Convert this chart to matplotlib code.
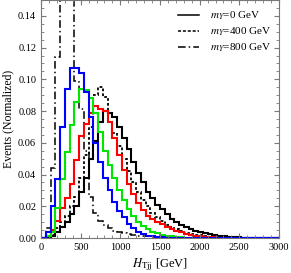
import numpy as np
import matplotlib
matplotlib.use('Agg')
from matplotlib import pyplot as plt
from matplotlib.lines import Line2D
from matplotlib.ticker import MultipleLocator

plt.rcParams['font.family'] = ['Liberation Serif', 'DejaVu Serif']
plt.rcParams['mathtext.fontset'] = 'stix'

# 60 GeV bins from 0 to 3000
edges = np.arange(0, 3001, 60)

blue = [0.0, 0.004, 0.020, 0.037, 0.070, 0.094, 0.107, 0.107, 0.104, 0.092,
        0.076, 0.060, 0.048, 0.038, 0.030, 0.023, 0.017, 0.013, 0.009, 0.006,
        0.004, 0.0025, 0.0015, 0.001, 0.0007, 0.0005, 0.0003, 0.0002, 0.0001, 0.0001,
        0.0001, 0.0001, 0.0001, 0.0001, 0.0001, 0.0001, 0.0001, 0.0001, 0.0001, 0.0001,
        0.0001, 0.0001, 0.0001, 0.0001, 0.0001, 0.0001, 0.0001, 0.0001, 0.0001, 0.0001]
green = [0.0, 0.001, 0.004, 0.019, 0.037, 0.054, 0.071, 0.086, 0.094, 0.093,
         0.088, 0.079, 0.067, 0.055, 0.046, 0.038, 0.030, 0.024, 0.0185, 0.014,
         0.010, 0.0075, 0.0055, 0.004, 0.003, 0.002, 0.0015, 0.001, 0.0007, 0.0005,
         0.0003, 0.0002, 0.0001, 0.0001, 0.0001, 0.0001, 0.0001, 0.0001, 0.0001, 0.0001,
         0.0001, 0.0001, 0.0001, 0.0001, 0.0001, 0.0001, 0.0001, 0.0001, 0.0001, 0.0001]
red = [0.0, 0.001, 0.005, 0.011, 0.019, 0.025, 0.034, 0.049, 0.064, 0.072,
       0.079, 0.083, 0.081, 0.080, 0.073, 0.063, 0.052, 0.043, 0.034, 0.028,
       0.022, 0.0175, 0.014, 0.012, 0.010, 0.0087, 0.007, 0.0055, 0.0045, 0.0035,
       0.0025, 0.002, 0.0015, 0.001, 0.0008, 0.0006, 0.0004, 0.0003, 0.0002, 0.0001,
       0.0001, 0.0001, 0.0001, 0.0001, 0.0001, 0.0001, 0.0001, 0.0001, 0.0001, 0.0001]
black = [0.0, 0.0005, 0.001, 0.004, 0.007, 0.010, 0.015, 0.020, 0.029, 0.038,
         0.050, 0.061, 0.073, 0.080, 0.079, 0.076, 0.070, 0.063, 0.056, 0.048,
         0.041, 0.035, 0.029, 0.025, 0.021, 0.018, 0.015, 0.012, 0.010, 0.0085,
         0.007, 0.0057, 0.0046, 0.0037, 0.003, 0.0024, 0.0018, 0.0013, 0.001, 0.0008,
         0.0006, 0.0004, 0.0003, 0.0002, 0.0001, 0.0001, 0.0001, 0.0001, 0.0001, 0.0001]
my400 = [0.0, 0.0005, 0.002, 0.006, 0.010, 0.014, 0.020, 0.026, 0.038, 0.052,
         0.070, 0.090, 0.095, 0.089, 0.073, 0.066, 0.058, 0.050, 0.042, 0.035,
         0.029, 0.024, 0.020, 0.016, 0.013, 0.0105, 0.0085, 0.0068, 0.0054, 0.0043,
         0.0034, 0.0027, 0.0021, 0.0016, 0.0012, 0.0009, 0.0007, 0.0005, 0.0003, 0.0002,
         0.0001, 0.0001, 0.0001, 0.0001, 0.0001, 0.0001, 0.0001, 0.0001, 0.0001, 0.0001]
my800 = [0.0, 0.006, 0.044, 0.114, 0.170, 0.190, 0.160, 0.099, 0.081, 0.055,
         0.026, 0.0155, 0.011, 0.008, 0.006, 0.0045, 0.0035, 0.003, 0.0025, 0.002,
         0.0015, 0.0012, 0.001, 0.0008, 0.0006, 0.0004, 0.0003, 0.0002, 0.0001, 0.0001,
         0.0, 0.0, 0.0, 0.0, 0.0, 0.0, 0.0, 0.0, 0.0, 0.0,
         0.0, 0.0, 0.0, 0.0, 0.0, 0.0, 0.0, 0.0, 0.0, 0.0]

labels = [r'$m_Y$=0 GeV', r'$m_Y$=400 GeV', r'$m_Y$=800 GeV']

fig = plt.figure(figsize=(2.91, 2.73), dpi=100)
ax = fig.add_axes([41/291, 35/273, 238/291, 238/273])

dotted = (0, (1.5, 1.2))
dashdot = (0, (5, 2, 1, 2))

ax.stairs(my800, edges, color='k', lw=1.1, ls=dashdot)
ax.stairs(my400, edges, color='k', lw=1.3, ls=dotted)
ax.stairs(black, edges, color='k', lw=1.5)
ax.stairs(red, edges, color='#ff0000', lw=1.5)
ax.stairs(green, edges, color='#00e600', lw=1.5)
ax.stairs(blue, edges, color='#0000ff', lw=1.5)

ax.set_xlim(0, 3000)
ax.set_ylim(0, 0.15)
ax.xaxis.set_major_locator(MultipleLocator(500))
ax.xaxis.set_minor_locator(MultipleLocator(100))
ax.yaxis.set_major_locator(MultipleLocator(0.02))
ax.yaxis.set_minor_locator(MultipleLocator(0.005))
ax.tick_params(which='both', direction='in', top=True, right=True, labelsize=7.5, color='#777777')
ax.tick_params(which='major', length=3.5)
ax.tick_params(which='minor', length=2)
for s in ax.spines.values():
    s.set_color('#777777')

ax.set_xlabel(r'$H_{\mathrm{Tjj}}$ [GeV]', fontsize=9, labelpad=3)
ax.set_ylabel('Events (Normalized)', fontsize=8.5, labelpad=3)

handles = [Line2D([], [], color='k', lw=1.1),
           Line2D([], [], color='k', lw=1.1, ls=(0, (2, 1.2))),
           Line2D([], [], color='k', lw=1.1, ls=dashdot)]
ax.legend(handles, labels, loc='upper right', bbox_to_anchor=(1.01, 1.0), frameon=False,
          fontsize=8, handlelength=1.9, handletextpad=1.0, labelspacing=0.3)

fig.savefig('out.png', dpi=100)
